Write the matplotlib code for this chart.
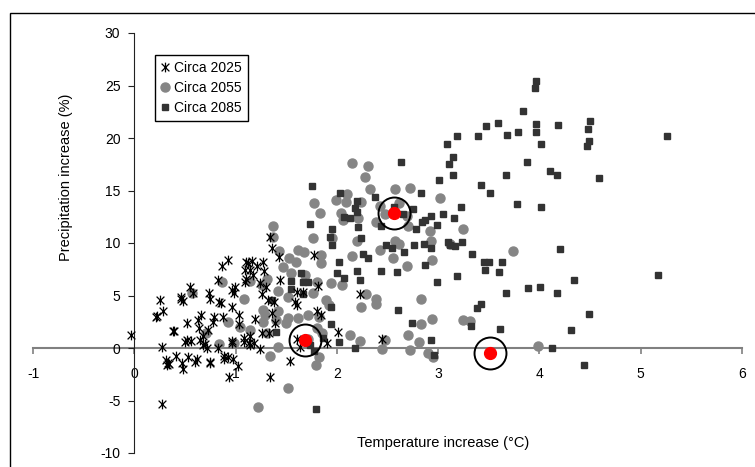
import numpy as np
import matplotlib
matplotlib.use("Agg")
import matplotlib.pyplot as plt
from matplotlib.path import Path
from matplotlib.patches import Rectangle

plt.rcParams['font.family'] = ['Liberation Sans', 'DejaVu Sans']
plt.rcParams['font.size'] = 10
plt.rcParams['axes.unicode_minus'] = False

# temperature (degC) / precipitation (%) changes per scenario run
t2025 = [-0.03, 0.27, 0.21, 0.28, 0.25, 0.27, 0.39, 0.33, 0.32, 0.41, 0.47, 0.48,
         0.46, 0.48, 0.55, 0.58, 0.52, 0.50, 0.56, 0.53, 0.60, 0.62, 0.52, 0.63,
         0.64, 0.66, 0.68, 0.65, 0.70, 0.72, 0.75, 0.74, 0.75, 0.73, 0.78, 0.79,
         0.84, 0.86, 0.83, 0.87, 0.93, 0.89, 0.93, 0.88, 0.96, 0.98, 0.96, 0.99,
         0.96, 0.96, 0.97, 0.94, 1.02, 1.03, 1.03, 1.08, 1.08, 1.09, 1.09, 1.12,
         1.14, 1.10, 1.16, 1.27, 1.14, 1.21, 1.28, 1.17, 1.10, 1.24, 1.30, 1.26,
         1.32, 1.36, 1.39, 1.33, 1.26, 1.19, 1.14, 1.18, 1.24, 1.13, 1.34, 1.36,
         1.43, 1.44, 1.38, 1.59, 1.61, 1.54, 1.34, 1.61, 1.64, 1.61, 1.67, 1.77,
         1.81, 1.80, 1.84, 2.01, 2.23, 2.45, 1.90, 0.89, 0.83, 0.68, 0.75, 0.22,
         0.38, 0.46, 0.31, 0.34]
p2025 = [1.2, 0.1, 3.0, 3.5, 4.6, -5.3, 1.65, -1.4, -1.6, -0.76, -1.4, -2.0,
         4.7, 4.5, 5.8, 5.2, 0.76, 0.6, 0.67, -0.9, -1.3, -1.0, 2.35, 2.7,
         1.9, 3.1, 1.1, 0.8, 0.35, -0.03, -1.3, 5.2, 4.7, 1.7, 2.5, 3.0,
         4.4, 4.3, 6.5, 7.85, 8.4, -0.8, -0.9, 3.0, 3.9, 5.2, 5.5, 5.8,
         0.67, 0.5, -1.05, -2.8, -1.7, 3.1, 2.3, 1.0, 0.6, 6.3, 7.4, 8.1,
         0.3, 8.2, 8.3, 8.2, 7.4, 7.8, 7.3, 7.0, 6.6, 6.2, 5.8, 5.1,
         4.6, 3.3, 2.4, 1.4, 1.4, 2.8, 1.1, 0.5, -0.1, 0.45, 10.6, 9.5,
         8.7, 6.5, 4.4, 4.4, 4.1, -1.25, -2.8, 0.9, 0.1, 5.3, 5.3, 8.9,
         5.9, 3.5, 3.1, 1.5, 5.1, 0.9, 0.5, -1.0, 0.0, 0.3, -1.4, 3.05,
         1.6, 4.9, -1.1, -1.5]

t2055 = [2.15, 2.31, 2.28, 2.33, 2.57, 2.72, 2.10, 1.99, 2.09, 1.77, 1.83, 2.24,
         2.61, 2.43, 3.02, 2.04, 2.06, 2.21, 2.39, 2.48, 2.69, 2.70, 2.92, 3.25,
         1.76, 1.95, 2.20, 2.57, 2.61, 2.93, 3.12, 1.37, 1.37, 1.43, 1.53, 1.62,
         1.68, 1.60, 1.84, 1.84, 2.15, 2.43, 2.55, 2.94, 2.69, 3.74, 1.47, 1.55,
         1.69, 1.80, 1.94, 2.05, 1.31, 1.26, 1.14, 1.42, 1.52, 1.76, 1.89, 1.92,
         2.29, 2.39, 2.39, 2.83, 2.24, 0.87, 0.57, 1.08, 1.27, 1.29, 1.42, 1.52,
         1.62, 1.72, 1.82, 1.27, 1.40, 0.93, 1.04, 1.14, 0.71, 1.31, 1.50, 1.80,
         2.94, 2.83, 3.25, 3.31, 2.13, 2.23, 2.48, 2.70, 2.81, 0.84, 1.42, 0.98,
         2.45, 2.72, 2.90, 2.95, 3.99, 1.34, 1.82, 1.79, 1.52, 1.22, 1.72, 1.85]
p2055 = [17.6, 17.3, 16.3, 15.1, 15.1, 15.2, 14.7, 14.1, 13.9, 13.8, 12.9, 13.9,
         13.8, 13.5, 14.3, 12.9, 12.2, 12.4, 12.0, 12.8, 12.6, 11.6, 11.1, 11.3,
         10.5, 10.5, 10.2, 10.2, 9.9, 10.2, 9.9, 11.6, 10.6, 9.2, 8.6, 9.3,
         9.1, 8.2, 8.9, 8.1, 8.8, 9.3, 8.6, 8.4, 7.8, 9.2, 7.7, 7.1,
         7.0, 6.3, 6.2, 6.0, 6.6, 6.0, 6.4, 5.4, 4.9, 5.2, 4.6, 4.1,
         5.1, 4.7, 4.2, 4.7, 3.9, 6.3, 5.2, 4.7, 3.6, 3.1, 3.5, 2.9,
         2.9, 3.1, 3.0, 2.5, 2.7, 2.5, 2.0, 1.7, 1.4, 1.4, 2.4, 1.9,
         2.8, 2.3, 2.7, 2.6, 1.2, 0.7, 0.8, 1.2, 0.6, 0.35, 0.1, 0.45,
         -0.1, -0.2, -0.5, -0.9, 0.2, -0.8, -0.9, -1.6, -3.8, -5.6, 0.9, 1.4]

t2085 = [3.97, 3.96, 3.84, 3.47, 3.59, 3.68, 3.79, 3.97, 3.97, 4.18, 4.50, 4.48,
         4.49, 4.47, 5.26, 3.39, 3.19, 3.09, 4.02, 3.15, 3.11, 3.15, 3.01, 3.88,
         4.10, 4.17, 3.67, 4.59, 2.63, 1.75, 2.03, 2.83, 3.42, 3.51, 2.38, 2.20,
         3.78, 4.02, 3.23, 2.18, 2.56, 2.75, 3.05, 3.16, 2.93, 2.65, 2.20, 2.07,
         2.13, 1.73, 2.21, 2.44, 2.78, 2.84, 2.87, 2.99, 1.95, 1.93, 2.24, 3.10,
         3.24, 3.17, 3.12, 2.49, 2.54, 2.76, 2.86, 2.93, 1.95, 2.66, 2.26, 2.31,
         3.33, 4.20, 3.45, 3.50, 3.63, 3.46, 3.60, 2.87, 2.02, 2.44, 2.59, 3.19,
         2.20, 2.00, 2.07, 2.23, 5.17, 4.34, 2.99, 1.55, 1.67, 1.72, 1.55, 1.67,
         1.65, 3.67, 3.89, 4.01, 4.17, 1.36, 1.94, 2.60, 3.42, 3.38, 4.49, 2.74,
         1.94, 3.32, 1.40, 3.61, 4.31, 2.93, 2.02, 1.86, 2.18, 4.12, 1.73, 2.96,
         4.44, 1.79, 1.77]
p2085 = [25.4, 24.8, 22.6, 21.1, 21.4, 20.3, 20.6, 21.3, 20.6, 21.2, 21.6, 20.9,
         19.7, 19.2, 20.2, 20.2, 20.2, 19.4, 19.4, 18.2, 17.5, 16.5, 16.0, 17.7,
         16.9, 16.5, 16.5, 16.2, 17.7, 15.4, 14.8, 14.8, 15.5, 14.8, 14.4, 14.0,
         13.7, 13.4, 13.4, 13.3, 13.4, 13.2, 12.8, 12.4, 12.6, 12.8, 13.0, 12.5,
         12.4, 11.8, 11.5, 11.6, 11.3, 12.0, 12.2, 11.7, 11.3, 10.6, 10.5, 10.1,
         10.1, 9.7, 9.8, 9.8, 9.5, 9.8, 9.9, 9.5, 9.8, 9.1, 9.0, 8.6,
         9.0, 9.4, 8.2, 8.2, 8.2, 7.4, 7.2, 7.9, 8.2, 7.3, 7.2, 6.9,
         7.3, 7.1, 6.7, 6.5, 7.0, 6.5, 6.3, 6.4, 6.3, 6.3, 5.6, 5.1,
         7.1, 5.2, 5.7, 5.8, 5.2, 4.6, 3.9, 3.6, 4.2, 3.8, 3.2, 2.4,
         2.3, 2.1, 1.5, 1.8, 1.7, 0.8, 0.6, 1.0, 0.0, 0.0, 0.25, -0.7,
         -1.6, -5.8, -0.3]

# highlighted runs
t_mark = [1.69, 2.56, 3.51]
p_mark = [0.76, 12.85, -0.45]

xticks = [-1, 0, 1, 2, 3, 4, 5, 6]
yticks = [-10, -5, 0, 5, 10, 15, 20, 25, 30]

# six-armed star: an X with a vertical bar
star = Path([(-1, -1), (1, 1), (-1, 1), (1, -1), (0, -1.25), (0, 1.25)],
            [Path.MOVETO, Path.LINETO, Path.MOVETO, Path.LINETO, Path.MOVETO, Path.LINETO])

fig = plt.figure(figsize=(7.55, 4.67), dpi=100)
ax = fig.add_axes([33/755, 1 - 453/467, (742 - 33)/755, (453 - 33)/467])

ax.plot(t2025, p2025, linestyle='none', marker=star, markersize=7,
        markeredgecolor='black', markerfacecolor='none', markeredgewidth=0.9,
        label='Circa 2025', zorder=3)
ax.plot(t2055, p2055, linestyle='none', marker='o', markersize=6.5,
        markerfacecolor='#858585', markeredgecolor='#858585', label='Circa 2055', zorder=2)
ax.plot(t2085, p2085, linestyle='none', marker='s', markersize=5,
        markerfacecolor='#333333', markeredgecolor='#333333', label='Circa 2085', zorder=2)

ax.plot(t_mark, p_mark, linestyle='none', marker='o', markersize=8.5,
        color='red', zorder=5)
ax.plot(t_mark, p_mark, linestyle='none', marker='o', markersize=23,
        markerfacecolor='none', markeredgecolor='black', markeredgewidth=1.4, zorder=6)

ax.set_xlim(-1, 6)
ax.set_ylim(-10, 30)
ax.set_xticks(xticks)
ax.set_yticks(yticks)

ax.spines['left'].set_position(('data', 0))
ax.spines['bottom'].set_position(('data', 0))
ax.spines['top'].set_visible(False)
ax.spines['right'].set_visible(False)
ax.spines['bottom'].set_color('#808080')
ax.spines['bottom'].set_linewidth(1.5)
ax.spines['left'].set_color('#222222')
ax.spines['left'].set_linewidth(0.8)
ax.spines['bottom'].set_zorder(1)
ax.tick_params(axis='x', direction='out', length=4, width=1.2, color='#808080', pad=10)
ax.tick_params(axis='y', direction='out', length=4, width=0.8, color='#222222', pad=6)

ax.legend(loc='upper left', bbox_to_anchor=(155/755, 1 - 55/467),
          bbox_transform=fig.transFigure, borderaxespad=0, fancybox=False,
          edgecolor='black', framealpha=1, handlelength=0.6, handletextpad=0.4,
          labelspacing=0.45, borderpad=0.4, fontsize=10)

fig.text(443/755, 1 - 443/467, 'Temperature increase (°C)', ha='center', va='center', fontsize=10.5)
fig.text(66/755, 1 - 177/467, 'Precipitation increase (%)', ha='center', va='center',
         rotation=90, fontsize=10.5)

# chart area border (left and top edges)
fig.patches.append(Rectangle((10/755, -0.05), 1.2, 1 - 13/467 + 0.05, transform=fig.transFigure,
                             fill=False, edgecolor='black', linewidth=1.0))

fig.savefig('out.png', dpi=100)
